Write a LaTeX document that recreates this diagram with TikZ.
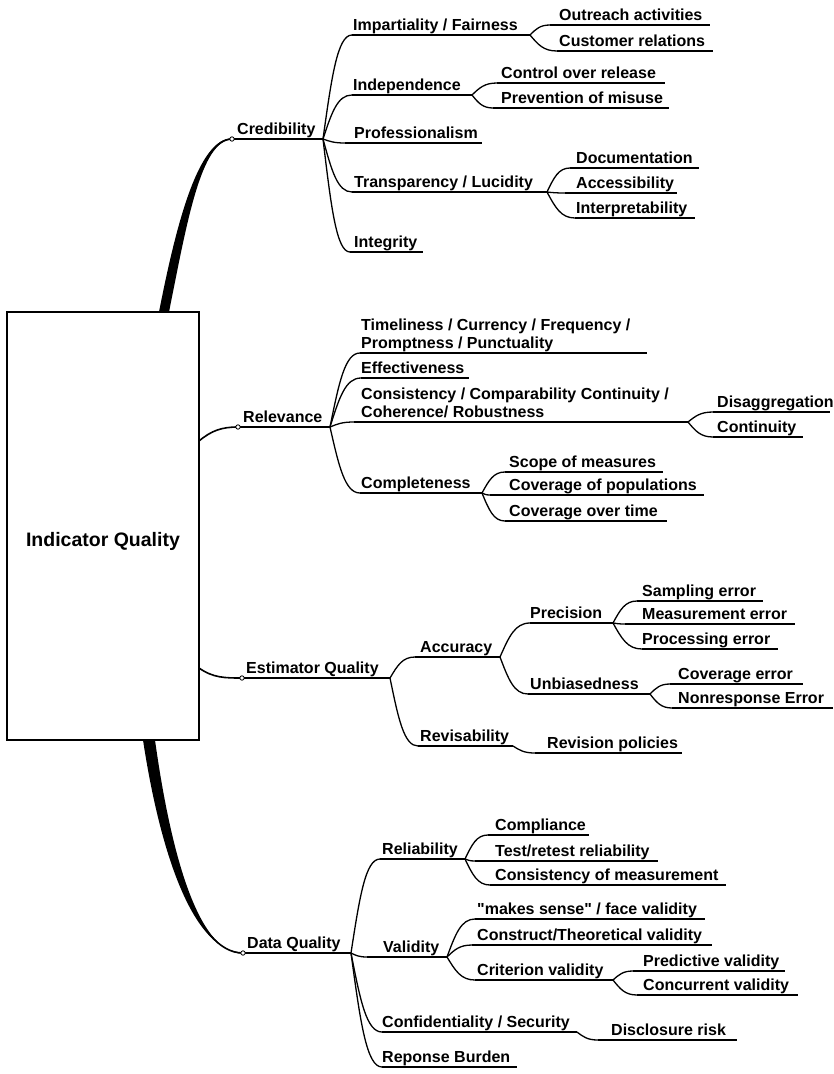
\documentclass[tikz,border=0pt]{standalone}
\usepackage{fontspec}
\setmainfont{Liberation Sans}[Ligatures=TeXOff]
\usetikzlibrary{calc}
\newcommand\mmtopic[6]{%
  \coordinate (#1-l) at (#2,#4);
  \coordinate (#1-r) at (#3,#4);
  \node[topic] (#1) at (#5,#4-1.2) {#6};
  \draw[uline] (#1-l) -- (#1-r);
}
\newcommand\mmlink[2]{\draw[conn] (#1-r) to (#2-l);}
\begin{document}
\begin{tikzpicture}[x=1pt,y=-1pt,
  topic/.style={anchor=south west, inner sep=0pt, text depth=3.5pt,
    font=\bfseries\fontsize{16}{18}\selectfont, align=left},
  uline/.style={line width=1.3pt},
  conn/.style={line width=1.3pt,
    to path={let \p1=(\tikztostart), \p2=(\tikztotarget) in
      .. controls ({\x1+0.3*(\x2-\x1)},{\y1+0.6*(\y2-\y1)}) and ({\x1+0.5*(\x2-\x1)},{\y2}) .. (\tikztotarget)}},
  mainconn/.style={line width=1.6pt},
  dot/.style={line width=0.8pt, fill=white}
]
\useasboundingbox (0,0) rectangle (834,1074);
\fill[white] (0,0) rectangle (834,1074);

% root
\node[draw, line width=1.3pt, minimum width=192pt, minimum height=428pt,
  text height=44pt, text depth=4pt, inner sep=0pt,
  font=\bfseries\fontsize{19.5}{22}\selectfont] (root) at (103,526) {Indicator Quality};
\coordinate (credbase) at (164,312);
\coordinate (relbase) at (199,441);
\coordinate (estbase) at (199,668);
\coordinate (database) at (149,740);

% Credibility
\mmtopic{cred}{232}{323}{139}{237}{Credibility}
\mmtopic{imp}{352}{530}{35}{353}{Impartiality / Fairness}
\mmtopic{out}{550}{710}{25}{559}{Outreach activities}
\mmtopic{cust}{557}{713}{51}{559}{Customer relations}
\mmtopic{ind}{352}{472}{95}{353}{Independence}
\mmtopic{ctrl}{497}{665}{83}{501}{Control over release}
\mmtopic{prev}{493}{669}{108}{501}{Prevention of misuse}
\mmtopic{prof}{345}{482}{143}{354}{Professionalism}
\mmtopic{tran}{352}{547}{192}{354}{Transparency / Lucidity}
\mmtopic{doc}{570}{699}{168}{576}{Documentation}
\mmtopic{acc}{565}{677}{193}{576}{Accessibility}
\mmtopic{intp}{575}{695}{218}{576}{Interpretability}
\mmtopic{integ}{350}{423}{252}{354}{Integrity}

% Relevance
\mmtopic{rel}{238}{330}{427}{243}{Relevance}
\mmtopic{time}{360}{647}{353}{361}{Timeliness / Currency / Frequency /\\Promptness / Punctuality}
\mmtopic{eff}{361}{469}{378}{361}{Effectiveness}
\mmtopic{cons}{354}{688}{422}{361}{Consistency / Comparability Continuity /\\Coherence/ Robustness}
\mmtopic{dis}{713}{830}{412}{717}{Disaggregation}
\mmtopic{cont}{713}{803}{437}{717}{Continuity}
\mmtopic{comp}{360}{482}{493}{361}{Completeness}
\mmtopic{scope}{505}{663}{472}{509}{Scope of measures}
\mmtopic{covp}{490}{704}{495}{509}{Coverage of populations}
\mmtopic{covt}{505}{667}{521}{509}{Coverage over time}

% Estimator Quality
\mmtopic{est}{242}{390}{678}{246}{Estimator Quality}
\mmtopic{accu}{415}{500}{657}{420}{Accuracy}
\mmtopic{prec}{530}{613}{623}{530}{Precision}
\mmtopic{samp}{637}{763}{601}{642}{Sampling error}
\mmtopic{meas}{625}{795}{624}{642}{Measurement error}
\mmtopic{proc}{642}{778}{649}{642}{Processing error}
\mmtopic{unb}{528}{650}{694}{530}{Unbiasedness}
\mmtopic{cove}{670}{803}{684}{678}{Coverage error}
\mmtopic{nonr}{672}{833}{708}{678}{Nonresponse Error}
\mmtopic{revi}{418}{513}{746}{420}{Revisability}
\mmtopic{revp}{535}{682}{753}{547}{Revision policies}

% Data Quality
\mmtopic{data}{243}{351}{953}{247}{Data Quality}
\mmtopic{reli}{380}{465}{859}{382}{Reliability}
\mmtopic{compl}{488}{589}{835}{495}{Compliance}
\mmtopic{test}{475}{658}{861}{495}{Test/retest reliability}
\mmtopic{consm}{490}{726}{885}{495}{Consistency of measurement}
\mmtopic{vali}{367}{447}{957}{383}{Validity}
\mmtopic{make}{475}{705}{919}{477}{"makes sense" / face validity}
\mmtopic{constr}{472}{712}{945}{477}{Construct/Theoretical validity}
\mmtopic{crit}{475}{613}{980}{477}{Criterion validity}
\mmtopic{pred}{633}{785}{971}{643}{Predictive validity}
\mmtopic{conc}{637}{798}{995}{643}{Concurrent validity}
\mmtopic{conf}{382}{577}{1032}{382}{Confidentiality / Security}
\mmtopic{disc}{598}{737}{1040}{611}{Disclosure risk}
\mmtopic{resp}{382}{517}{1067}{382}{Reponse Burden}

% links
\mmlink{cred}{imp}\mmlink{cred}{ind}\mmlink{cred}{prof}\mmlink{cred}{tran}\mmlink{cred}{integ}
\mmlink{imp}{out}\mmlink{imp}{cust}
\mmlink{ind}{ctrl}\mmlink{ind}{prev}
\mmlink{tran}{doc}\mmlink{tran}{acc}\mmlink{tran}{intp}
\mmlink{rel}{time}\mmlink{rel}{eff}\mmlink{rel}{cons}\mmlink{rel}{comp}
\mmlink{cons}{dis}\mmlink{cons}{cont}
\mmlink{comp}{scope}\mmlink{comp}{covp}\mmlink{comp}{covt}
\mmlink{est}{accu}\mmlink{est}{revi}
\mmlink{accu}{prec}\mmlink{accu}{unb}
\mmlink{prec}{samp}\mmlink{prec}{meas}\mmlink{prec}{proc}
\mmlink{unb}{cove}\mmlink{unb}{nonr}
\mmlink{revi}{revp}
\mmlink{data}{reli}\mmlink{data}{vali}\mmlink{data}{conf}\mmlink{data}{resp}
\mmlink{reli}{compl}\mmlink{reli}{test}\mmlink{reli}{consm}
\mmlink{vali}{make}\mmlink{vali}{constr}\mmlink{vali}{crit}
\mmlink{crit}{pred}\mmlink{crit}{conc}
\mmlink{conf}{disc}

% main branches from the root
\fill (159,312) .. controls (177,220) and (199,138.2) .. (232,138.4)
  -- (232,139.6) .. controls (201,140) and (187,222) .. (169,312) -- cycle;
\draw[mainconn] (credbase) .. controls (182,220) and (200,139) .. (cred-l);
\draw[mainconn] (relbase) to[out=40,in=180] (rel-l);
\draw[mainconn] (estbase) to[out=-35,in=180] (est-l);
\fill (143,740) .. controls (160,852) and (193,952.4) .. (243,952.4)
  -- (243,953.6) .. controls (197,954) and (170,848) .. (155,740) -- cycle;
\draw[mainconn] (database) .. controls (165,850) and (195,953) .. (data-l);

\draw[dot] (cred-l) circle (2.2);
\draw[dot] (rel-l) circle (2.2);
\draw[dot] (est-l) circle (2.2);
\draw[dot] (data-l) circle (2.2);
\end{tikzpicture}
\end{document}
